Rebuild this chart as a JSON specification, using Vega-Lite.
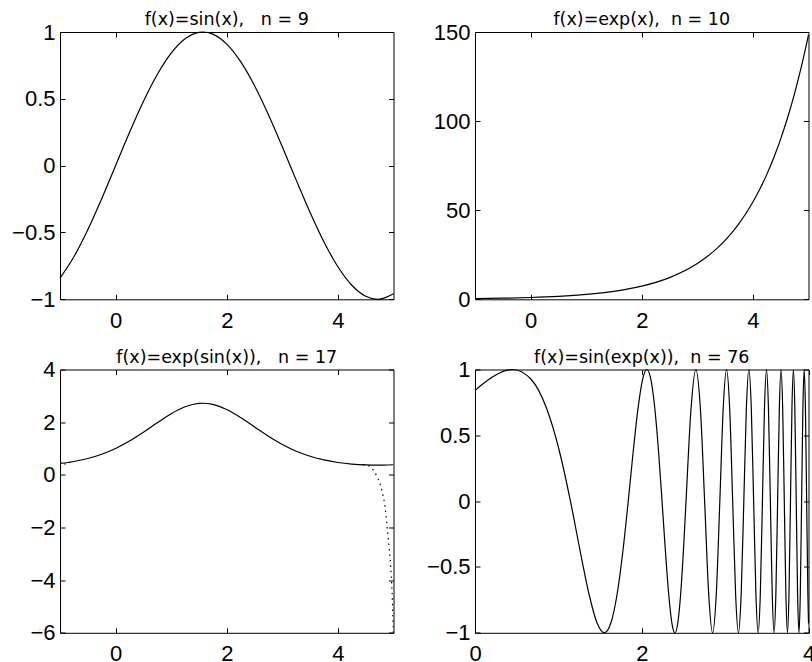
{
  "$schema": "https://vega.github.io/schema/vega-lite/v6.json",
  "background": "white",
  "padding": {"left": 11, "top": 10, "right": 0, "bottom": 0},
  "autosize": {"type": "pad"},
  "columns": 2,
  "spacing": {"row": 69.5, "column": 81},
  "bounds": "flush",
  "datasets": {
    "sinx": [
      {"x": -1, "y": -0.8415}, {"x": -0.75, "y": -0.6816}, {"x": -0.5, "y": -0.4794}, {"x": -0.25, "y": -0.2474},
      {"x": 0, "y": 0}, {"x": 0.25, "y": 0.2474}, {"x": 0.5, "y": 0.4794}, {"x": 0.75, "y": 0.6816},
      {"x": 1, "y": 0.8415}, {"x": 1.25, "y": 0.949}, {"x": 1.5, "y": 0.9975}, {"x": 1.5708, "y": 1},
      {"x": 1.75, "y": 0.984}, {"x": 2, "y": 0.9093}, {"x": 2.25, "y": 0.7781}, {"x": 2.5, "y": 0.5985},
      {"x": 2.75, "y": 0.3817}, {"x": 3, "y": 0.1411}, {"x": 3.25, "y": -0.1082}, {"x": 3.5, "y": -0.3508},
      {"x": 3.75, "y": -0.5716}, {"x": 4, "y": -0.7568}, {"x": 4.25, "y": -0.895}, {"x": 4.5, "y": -0.9775},
      {"x": 4.7124, "y": -1}, {"x": 4.75, "y": -0.9993}, {"x": 5, "y": -0.9589}
    ],
    "expx": [
      {"x": -1, "y": 0.3679}, {"x": -0.5, "y": 0.6065}, {"x": 0, "y": 1}, {"x": 0.5, "y": 1.6487},
      {"x": 1, "y": 2.7183}, {"x": 1.5, "y": 4.4817}, {"x": 2, "y": 7.3891}, {"x": 2.5, "y": 12.1825},
      {"x": 3, "y": 20.0855}, {"x": 3.25, "y": 25.79}, {"x": 3.5, "y": 33.1155}, {"x": 3.75, "y": 42.52},
      {"x": 4, "y": 54.598}, {"x": 4.125, "y": 61.87}, {"x": 4.25, "y": 70.105}, {"x": 4.375, "y": 79.44},
      {"x": 4.5, "y": 90.017}, {"x": 4.625, "y": 102.0}, {"x": 4.75, "y": 115.58}, {"x": 4.875, "y": 130.97},
      {"x": 5, "y": 148.41}
    ],
    "expsin": [
      {"x": -1, "y": 0.4311, "s": "f", "seg": "M"}, {"x": -0.75, "y": 0.5058, "s": "f", "seg": "M"}, {"x": -0.5, "y": 0.6191, "s": "f", "seg": "M"},
      {"x": -0.25, "y": 0.7808, "s": "f", "seg": "M"}, {"x": 0, "y": 1, "s": "f", "seg": "M"}, {"x": 0.25, "y": 1.2807, "s": "f", "seg": "M"},
      {"x": 0.5, "y": 1.6151, "s": "f", "seg": "M"}, {"x": 0.75, "y": 1.9771, "s": "f", "seg": "M"}, {"x": 1, "y": 2.3198, "s": "f", "seg": "M"},
      {"x": 1.25, "y": 2.5831, "s": "f", "seg": "M"}, {"x": 1.5, "y": 2.7115, "s": "f", "seg": "M"}, {"x": 1.5708, "y": 2.7183, "s": "f", "seg": "M"},
      {"x": 1.75, "y": 2.6751, "s": "f", "seg": "M"}, {"x": 2, "y": 2.4826, "s": "f", "seg": "M"}, {"x": 2.25, "y": 2.1773, "s": "f", "seg": "M"},
      {"x": 2.5, "y": 1.8193, "s": "f", "seg": "M"}, {"x": 2.75, "y": 1.4648, "s": "f", "seg": "M"}, {"x": 3, "y": 1.1515, "s": "f", "seg": "M"},
      {"x": 3.25, "y": 0.8975, "s": "f", "seg": "M"}, {"x": 3.5, "y": 0.7041, "s": "f", "seg": "M"}, {"x": 3.75, "y": 0.5646, "s": "f", "seg": "M"},
      {"x": 4, "y": 0.4691, "s": "f", "seg": "M"}, {"x": 4.25, "y": 0.4086, "s": "f", "seg": "M"}, {"x": 4.5, "y": 0.3763, "s": "f", "seg": "M"},
      {"x": 4.7124, "y": 0.3679, "s": "f", "seg": "M"}, {"x": 5, "y": 0.3833, "s": "f", "seg": "M"},
      {"x": -1, "y": 0.27, "s": "p", "seg": "L"}, {"x": -0.95, "y": 0.37, "s": "p", "seg": "L"}, {"x": -0.9, "y": 0.42, "s": "p", "seg": "L"},
      {"x": -0.85, "y": 0.46, "s": "p", "seg": "L"}, {"x": -0.8, "y": 0.488, "s": "p", "seg": "L"},
      {"x": 4.45, "y": 0.381, "s": "p", "seg": "R"}, {"x": 4.5, "y": 0.372, "s": "p", "seg": "R"},
      {"x": 4.55, "y": 0.345, "s": "p", "seg": "R"}, {"x": 4.6, "y": 0.27, "s": "p", "seg": "R"}, {"x": 4.65, "y": 0.14, "s": "p", "seg": "R"},
      {"x": 4.7, "y": -0.05, "s": "p", "seg": "R"}, {"x": 4.75, "y": -0.29, "s": "p", "seg": "R"}, {"x": 4.8, "y": -0.68, "s": "p", "seg": "R"},
      {"x": 4.85, "y": -1.25, "s": "p", "seg": "R"}, {"x": 4.88, "y": -1.85, "s": "p", "seg": "R"}, {"x": 4.91, "y": -2.5, "s": "p", "seg": "R"},
      {"x": 4.94, "y": -3.2, "s": "p", "seg": "R"}, {"x": 4.96, "y": -3.85, "s": "p", "seg": "R"}, {"x": 4.975, "y": -4.5, "s": "p", "seg": "R"},
      {"x": 4.985, "y": -5.1, "s": "p", "seg": "R"}, {"x": 4.995, "y": -5.8, "s": "p", "seg": "R"}, {"x": 5, "y": -6.3, "s": "p", "seg": "R"}
    ],
    "sinexp": [
      {"x": 0, "y": 0.8415}, {"x": 0.1, "y": 0.8937}, {"x": 0.2, "y": 0.9396}, {"x": 0.3, "y": 0.9757},
      {"x": 0.4, "y": 0.9969}, {"x": 0.4516, "y": 1}, {"x": 0.6747, "y": 0.9239}, {"x": 0.857, "y": 0.7071},
      {"x": 1.0112, "y": 0.3827}, {"x": 1.1447, "y": 0}, {"x": 1.2625, "y": -0.3827}, {"x": 1.3679, "y": -0.7071},
      {"x": 1.4632, "y": -0.9239}, {"x": 1.5502, "y": -1}, {"x": 1.6302, "y": -0.9239}, {"x": 1.7043, "y": -0.7071},
      {"x": 1.7733, "y": -0.3827}, {"x": 1.8379, "y": 0}, {"x": 1.8985, "y": 0.3827}, {"x": 1.9557, "y": 0.7071},
      {"x": 2.0097, "y": 0.9239}, {"x": 2.061, "y": 1}, {"x": 2.1098, "y": 0.9239}, {"x": 2.1563, "y": 0.7071},
      {"x": 2.2008, "y": 0.3827}, {"x": 2.2433, "y": 0}, {"x": 2.2842, "y": -0.3827}, {"x": 2.3234, "y": -0.7071},
      {"x": 2.3611, "y": -0.9239}, {"x": 2.3975, "y": -1}, {"x": 2.4326, "y": -0.9239}, {"x": 2.4665, "y": -0.7071},
      {"x": 2.4993, "y": -0.3827}, {"x": 2.531, "y": 0}, {"x": 2.5916, "y": 0.7071}, {"x": 2.6488, "y": 1},
      {"x": 2.7029, "y": 0.7071}, {"x": 2.7542, "y": 0}, {"x": 2.803, "y": -0.7071}, {"x": 2.8495, "y": -1},
      {"x": 2.8939, "y": -0.7071}, {"x": 2.9365, "y": 0}, {"x": 2.9773, "y": 0.7071}, {"x": 3.0165, "y": 1},
      {"x": 3.0543, "y": 0.7071}, {"x": 3.0906, "y": 0}, {"x": 3.1257, "y": -0.7071}, {"x": 3.1596, "y": -1},
      {"x": 3.1924, "y": -0.7071}, {"x": 3.2242, "y": 0}, {"x": 3.2549, "y": 0.7071}, {"x": 3.2848, "y": 1},
      {"x": 3.3138, "y": 0.7071}, {"x": 3.342, "y": 0}, {"x": 3.3694, "y": -0.7071}, {"x": 3.396, "y": -1},
      {"x": 3.422, "y": -0.7071}, {"x": 3.4473, "y": 0}, {"x": 3.472, "y": 0.7071}, {"x": 3.4961, "y": 1},
      {"x": 3.5196, "y": 0.7071}, {"x": 3.5426, "y": 0}, {"x": 3.5651, "y": -0.7071}, {"x": 3.5871, "y": -1},
      {"x": 3.6086, "y": -0.7071}, {"x": 3.6296, "y": 0}, {"x": 3.6503, "y": 0.7071}, {"x": 3.6705, "y": 1},
      {"x": 3.6903, "y": 0.7071}, {"x": 3.7097, "y": 0}, {"x": 3.7287, "y": -0.7071}, {"x": 3.7474, "y": -1},
      {"x": 3.7658, "y": -0.7071}, {"x": 3.7838, "y": 0}, {"x": 3.8015, "y": 0.7071}, {"x": 3.8189, "y": 1},
      {"x": 3.836, "y": 0.7071}, {"x": 3.8528, "y": 0}, {"x": 3.8693, "y": -0.7071}, {"x": 3.8856, "y": -1},
      {"x": 3.9016, "y": -0.7071}, {"x": 3.9173, "y": 0}, {"x": 3.9328, "y": 0.7071}, {"x": 3.9481, "y": 1},
      {"x": 3.9631, "y": 0.7071}, {"x": 3.9779, "y": 0}, {"x": 3.9925, "y": -0.7071}, {"x": 4, "y": -0.929}
    ]
  },
  "concat": [
    {
      "title": {"text": "f(x)=sin(x),\u00a0\u00a0\u00a0n = 9"},
      "width": 333.5, "height": 267.3,
      "data": {"name": "sinx"},
      "layer": [
        {"mark": {"type": "line", "color": "black", "strokeWidth": 1.2, "interpolate": "monotone"},
         "encoding": {
           "x": {"field": "x", "type": "quantitative", "scale": {"domain": [-1, 5], "nice": false, "zero": false}, "axis": {"orient": "bottom", "values": [0, 2, 4], "title": null}},
           "y": {"field": "y", "type": "quantitative", "scale": {"domain": [-1, 1], "nice": false, "zero": false}, "axis": {"orient": "left", "values": [-1, -0.5, 0, 0.5, 1], "title": null}}
         }},
        {"mark": {"type": "line", "strokeOpacity": 0},
         "encoding": {
           "x": {"field": "x", "type": "quantitative", "scale": {"domain": [-1, 5], "nice": false, "zero": false}, "axis": {"orient": "top", "values": [0, 2, 4], "labels": false, "title": null}},
           "y": {"field": "y", "type": "quantitative", "scale": {"domain": [-1, 1], "nice": false, "zero": false}, "axis": {"orient": "right", "values": [-1, -0.5, 0, 0.5, 1], "labels": false, "title": null}}
         }}
      ],
      "resolve": {"axis": {"x": "independent", "y": "independent"}}
    },
    {
      "title": {"text": "f(x)=exp(x),\u00a0\u00a0n = 10"},
      "width": 333.5, "height": 267.3,
      "data": {"name": "expx"},
      "layer": [
        {"mark": {"type": "line", "color": "black", "strokeWidth": 1.2, "interpolate": "monotone"},
         "encoding": {
           "x": {"field": "x", "type": "quantitative", "scale": {"domain": [-1, 5], "nice": false, "zero": false}, "axis": {"orient": "bottom", "values": [0, 2, 4], "title": null}},
           "y": {"field": "y", "type": "quantitative", "scale": {"domain": [0, 150], "nice": false, "zero": false}, "axis": {"orient": "left", "values": [0, 50, 100, 150], "format": "d", "title": null}}
         }},
        {"mark": {"type": "line", "strokeOpacity": 0},
         "encoding": {
           "x": {"field": "x", "type": "quantitative", "scale": {"domain": [-1, 5], "nice": false, "zero": false}, "axis": {"orient": "top", "values": [0, 2, 4], "labels": false, "title": null}},
           "y": {"field": "y", "type": "quantitative", "scale": {"domain": [0, 150], "nice": false, "zero": false}, "axis": {"orient": "right", "values": [0, 50, 100, 150], "labels": false, "title": null}}
         }}
      ],
      "resolve": {"axis": {"x": "independent", "y": "independent"}}
    },
    {
      "title": {"text": "f(x)=exp(sin(x)),\u00a0\u00a0\u00a0n = 17"},
      "width": 333.5, "height": 263.3,
      "data": {"name": "expsin"},
      "layer": [
        {"transform": [{"filter": "datum.s === 'f'"}],
         "mark": {"type": "line", "color": "black", "strokeWidth": 1.2, "interpolate": "monotone", "clip": true},
         "encoding": {
           "x": {"field": "x", "type": "quantitative", "scale": {"domain": [-1, 5], "nice": false, "zero": false}, "axis": {"orient": "bottom", "values": [0, 2, 4], "title": null}},
           "y": {"field": "y", "type": "quantitative", "scale": {"domain": [-6, 4], "nice": false, "zero": false}, "axis": {"orient": "left", "values": [-6, -4, -2, 0, 2, 4], "title": null}}
         }},
        {"transform": [{"filter": "datum.s === 'p'"}],
         "mark": {"type": "line", "color": "black", "strokeWidth": 1.2, "strokeDash": [1.5, 4], "interpolate": "monotone", "clip": true},
         "encoding": {
           "x": {"field": "x", "type": "quantitative", "scale": {"domain": [-1, 5], "nice": false, "zero": false}, "axis": {"orient": "top", "values": [0, 2, 4], "labels": false, "title": null}},
           "y": {"field": "y", "type": "quantitative", "scale": {"domain": [-6, 4], "nice": false, "zero": false}, "axis": {"orient": "right", "values": [-6, -4, -2, 0, 2, 4], "labels": false, "title": null}},
           "detail": {"field": "seg", "type": "nominal"}
         }}
      ],
      "resolve": {"axis": {"x": "independent", "y": "independent"}}
    },
    {
      "title": {"text": "f(x)=sin(exp(x)),\u00a0\u00a0n = 76"},
      "width": 333.5, "height": 263.3,
      "data": {"name": "sinexp"},
      "layer": [
        {"mark": {"type": "line", "color": "black", "strokeWidth": 1.2, "interpolate": "monotone"},
         "encoding": {
           "x": {"field": "x", "type": "quantitative", "scale": {"domain": [0, 4], "nice": false, "zero": false}, "axis": {"orient": "bottom", "values": [0, 2, 4], "title": null}},
           "y": {"field": "y", "type": "quantitative", "scale": {"domain": [-1, 1], "nice": false, "zero": false}, "axis": {"orient": "left", "values": [-1, -0.5, 0, 0.5, 1], "title": null}}
         }},
        {"mark": {"type": "line", "strokeOpacity": 0},
         "encoding": {
           "x": {"field": "x", "type": "quantitative", "scale": {"domain": [0, 4], "nice": false, "zero": false}, "axis": {"orient": "top", "values": [0, 2, 4], "labels": false, "title": null}},
           "y": {"field": "y", "type": "quantitative", "scale": {"domain": [-1, 1], "nice": false, "zero": false}, "axis": {"orient": "right", "values": [-1, -0.5, 0, 0.5, 1], "labels": false, "title": null}}
         }}
      ],
      "resolve": {"axis": {"x": "independent", "y": "independent"}}
    }
  ],
  "config": {
    "font": "Liberation Sans",
    "numberFormat": "~g",
    "view": {"stroke": "black", "strokeWidth": 1},
    "axis": {
      "domain": false, "grid": false, "ticks": true, "tickSize": -5, "tickColor": "black", "tickWidth": 1,
      "labelFont": "Liberation Sans", "labelFontSize": 22, "labelColor": "black", "labelPadding": 10,
      "labelFlush": false, "labelOverlap": false
    },
    "axisX": {"labelPadding": 16},
    "title": {"font": "DejaVu Sans", "fontSize": 17.5, "fontWeight": "normal", "color": "black", "offset": -7.6, "baseline": "alphabetic"}
  }
}
